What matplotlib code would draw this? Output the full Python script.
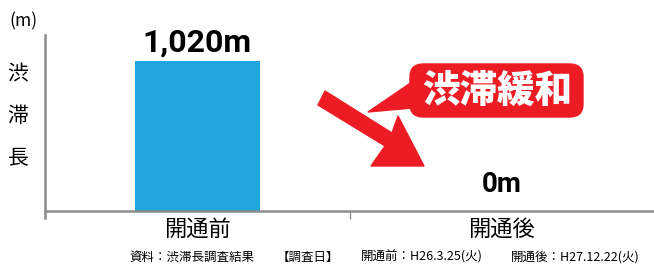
import matplotlib.pyplot as plt
from matplotlib.patches import Polygon, FancyBboxPatch

plt.rcParams['font.family'] = ['Noto Sans CJK JP', 'DejaVu Sans']

categories = ['開通前', '開通後']
values = [1020, 0]
value_labels = ['1,020m', '0m']

W, H = 654, 264
fig = plt.figure(figsize=(W / 100, H / 100), dpi=100)
ax = fig.add_axes([45 / W, 1 - 211 / H, (W - 45) / W, (211 - 35) / H])

x = range(len(categories))
ax.bar(x, values, width=0.41, color='#1ea6dd', zorder=2)
ax.set_xlim(-0.5, 1.5)
ax.set_ylim(0, 1197)

num_font = ['Roboto', 'DejaVu Sans']
for i, (v, lab) in enumerate(zip(values, value_labels)):
    big = v > 0
    ax.annotate(lab, (i, v), xytext=(0, 6.5 if big else 13.7), textcoords='offset points',
                ha='center', va='baseline', fontsize=23 if big else 20,
                fontweight='bold', color='black', family=num_font)

for s in ['top', 'right']:
    ax.spines[s].set_visible(False)
for s in ['left', 'bottom']:
    ax.spines[s].set_color('#8c8c8c')
    ax.spines[s].set_linewidth(1.8)
ax.plot([0, 0], [-0.04, 0], transform=ax.transAxes, clip_on=False,
        color='#8c8c8c', lw=1.8)
ax.set_yticks([])
ax.set_xticks(x)
ax.set_xticklabels(categories, fontsize=16)
ax.tick_params(axis='x', length=0, pad=5)
ax.set_xticks([0.5], minor=True)
ax.tick_params(axis='x', which='minor', length=6, width=1, color='#8c8c8c')


def px(xp, yp):
    return xp / W, 1 - yp / H


# y label
fig.text(*px(23, 21), '(m)', ha='center', va='center', fontsize=12.5)
for ch, yp in zip('渋滞長', [74, 116, 158]):
    fig.text(*px(18, yp), ch, ha='center', va='center', fontsize=15)

# arrow
arrow = [(318, 105), (325, 91), (392, 133), (398, 116), (424, 166), (371, 166), (385, 146)]
fig.patches.append(Polygon([px(a, b) for a, b in arrow], closed=True,
                           transform=fig.transFigure, color='#ed1c24', zorder=5))

# callout
box = FancyBboxPatch(px(410, 117), 173 / W, 53 / H,
                     boxstyle='round,pad=0,rounding_size=0.02',
                     transform=fig.transFigure, color='#ed1c24', zorder=5,
                     mutation_aspect=W / H)
fig.patches.append(box)
tail = [(368, 112), (412, 82), (412, 108)]
fig.patches.append(Polygon([px(a, b) for a, b in tail], closed=True,
                           transform=fig.transFigure, color='#ed1c24', zorder=5))
fig.text(*px(497, 91), '渋滞緩和', ha='center', va='center', fontsize=27,
         fontweight='heavy', color='white', zorder=6)

# footnote
fs = 9
fig.text(*px(129, 257), '資料：渋滞長調査結果', ha='left', va='center', fontsize=fs)
fig.text(*px(277, 257), '【調査日】', ha='left', va='center', fontsize=fs)
fig.text(*px(361, 257), '開通前：H26.3.25(火)', ha='left', va='center', fontsize=fs)
fig.text(*px(511, 257), '開通後：H27.12.22(火)', ha='left', va='center', fontsize=fs)

fig.savefig('out.png', dpi=100)
